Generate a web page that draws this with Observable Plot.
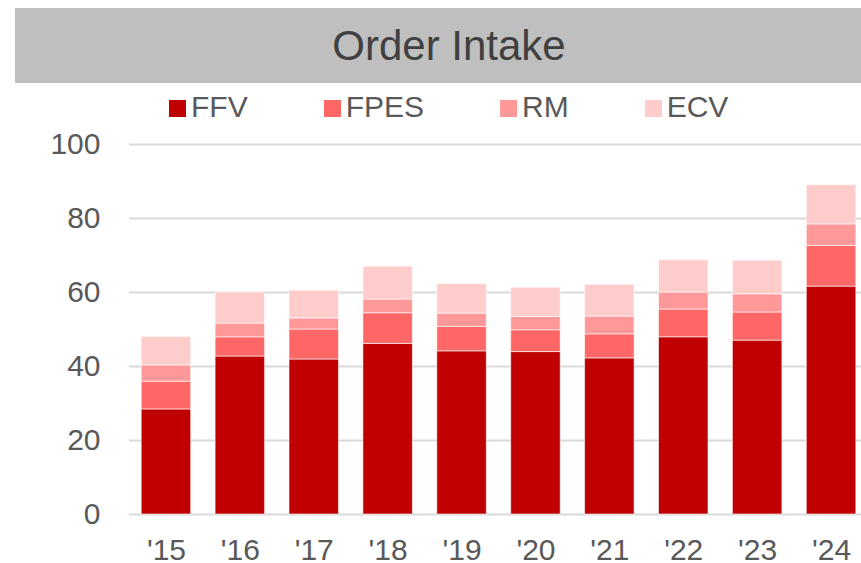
<!DOCTYPE html>
<html>
<head>
<meta charset="utf-8">
<script src="https://cdn.jsdelivr.net/npm/d3@7"></script>
<script src="https://cdn.jsdelivr.net/npm/@observablehq/plot@0.6"></script>
<style>
  html, body { margin: 0; padding: 0; background: #fff; overflow: hidden; }
  #wrap { position: relative; width: 861px; height: 563px; overflow: hidden; font-family: "Liberation Sans", Arial, sans-serif; }
  #title { position: absolute; left: 15px; top: 8px; width: 846px; height: 75px; background: #BFBFBF; color: #404040;
           font-size: 42px; line-height: 75px; text-align: center; box-sizing: border-box; padding-left: 22px; }
  #legend { position: absolute; left: 169px; top: 92px; height: 30px; line-height: 30px; font-size: 30px; color: #595959; white-space: nowrap; }
  .item { display: inline-block; margin-right: 76px; }
  .sw { display: inline-block; width: 17px; height: 17px; margin-right: 5px; vertical-align: baseline; }
  #chart { position: absolute; left: 0; top: 130px; width: 868px; height: 433px; }
  #chart svg { max-width: none !important; overflow: visible; }
</style>
</head>
<body>
<div id="wrap">
  <div id="title">Order Intake</div>
  <div id="legend"></div>
  <div id="chart"></div>
</div>
<script>
const years = ["'15", "'16", "'17", "'18", "'19", "'20", "'21", "'22", "'23", "'24"];
const seriesNames = ["FFV", "FPES", "RM", "ECV"];
const seriesColors = ["#C00000", "#FF6666", "#FF9999", "#FFCCCC"];
const FFV  = [28.4, 42.7, 41.9, 46.1, 44.1, 43.9, 42.2, 47.9, 47.0, 61.6];
const FPES = [7.5, 5.2, 8.1, 8.3, 6.6, 5.9, 6.5, 7.5, 7.6, 11.0];
const RM   = [4.4, 3.7, 3.0, 3.7, 3.6, 3.6, 4.8, 4.6, 4.9, 5.8];
const ECV  = [7.7, 8.4, 7.5, 8.9, 8.0, 7.9, 8.6, 8.7, 9.1, 10.6];
const yTicks = [0, 20, 40, 60, 80, 100];

const seriesValues = [FFV, FPES, RM, ECV];
const rows = [];
seriesNames.forEach((s, si) => {
  years.forEach((y, i) => rows.push({year: y, series: s, value: seriesValues[si][i]}));
});

// legend
const legend = document.getElementById("legend");
seriesNames.forEach((s, i) => {
  const it = document.createElement("span");
  it.className = "item";
  const sw = document.createElement("span");
  sw.className = "sw";
  sw.style.background = seriesColors[i];
  it.appendChild(sw);
  it.appendChild(document.createTextNode(s));
  legend.appendChild(it);
});

const chart = Plot.plot({
  width: 868,
  height: 433,
  marginLeft: 129,
  marginRight: 0,
  marginTop: 14,
  marginBottom: 49,
  style: {fontFamily: '"Liberation Sans", Arial, sans-serif', color: "#595959", background: "transparent", maxWidth: "none"},
  x: {type: "band", domain: years, paddingInner: 0.33, paddingOuter: 0.165, round: false, label: null},
  y: {domain: [0, 100], label: null},
  color: {domain: seriesNames, range: seriesColors},
  marks: [
    Plot.ruleY(yTicks, {stroke: "#D9D9D9", strokeWidth: 2}),
    Plot.barY(rows, {x: "year", y: "value", fill: "series", order: seriesNames,
      stroke: "#ffffff", strokeWidth: 1, strokeOpacity: 0.6}),
    Plot.axisY(yTicks, {tickSize: 0, tickPadding: 29, fontSize: 30, label: null}),
    Plot.axisX({tickSize: 0, tickPadding: 24, fontSize: 30, label: null})
  ]
});
chart.style.maxWidth = "none";
document.getElementById("chart").appendChild(chart);
</script>
</body>
</html>
